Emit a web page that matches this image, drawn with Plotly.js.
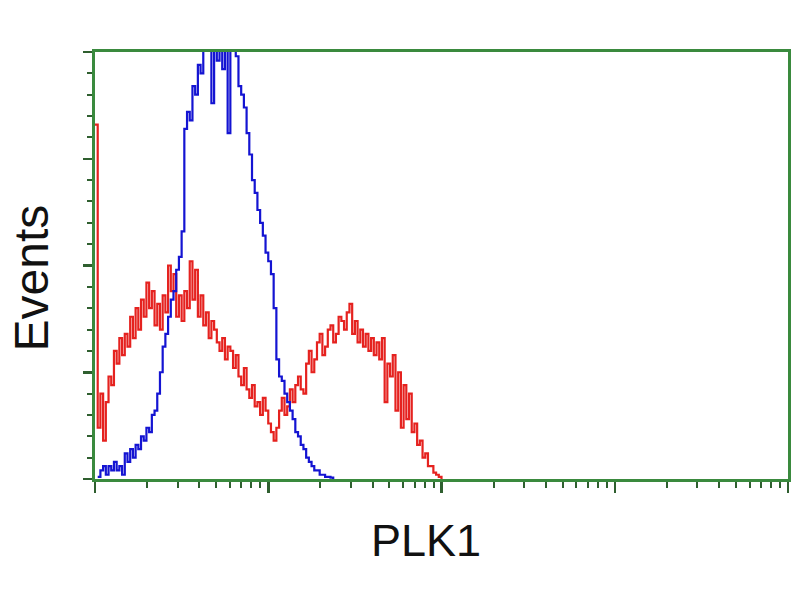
<!DOCTYPE html>
<html>
<head>
<meta charset="utf-8">
<script src="https://cdn.plot.ly/plotly-3.0.1.min.js"></script>
<style>html,body{margin:0;padding:0;background:#fff;}#chart{width:800px;height:600px;}</style>
</head>
<body>
<div id="chart"></div>
<script>
// Histogram channels: 64 channels per decade, 4 decades (0..256)
const xTitle = "PLK1";
const yTitle = "Events";
const decadeTicks = [0, 64, 128, 192, 256];

// Blue (control) histogram, starting at channel 1
const blueStart = 1;
const blueCounts = [
  0.5, 2, 3, 1, 3, 2, 4, 2, 3, 1,
  6, 4, 7, 5, 8, 7, 10, 9, 12, 11,
  15, 16, 20, 25, 31, 34, 38, 42, 44, 49,
  52, 58, 82, 86, 84, 92, 90, 97, 95, 103,
  108, 101, 88, 106, 98, 104, 96, 110, 81, 102,
  107, 99, 92, 90, 87, 81, 76, 70, 67, 63,
  60, 57, 53, 51, 48, 40, 28, 24, 23, 20,
  18, 16, 14, 11, 10, 8, 7, 5, 4, 3,
  2, 2, 1, 1, 0.5, 0.5, 0.3, 0
];

// Red (PLK1 stained) histogram, starting at channel 0
const redStart = 0;
const redCounts = [
  83, 12, 20, 9, 18, 24, 22, 30, 27, 33,
  29, 34, 31, 38, 33, 40, 35, 42, 38, 46,
  40, 44, 36, 41, 35, 43, 39, 50, 44, 48,
  38, 43, 37, 44, 40, 51, 42, 49, 38, 43,
  36, 39, 33, 37, 35, 32, 30, 33, 28, 31,
  30, 26, 29, 24, 22, 26, 21, 19, 22, 17,
  18, 15, 19, 16, 13, 11, 9, 12, 16, 19,
  15, 17, 21, 18, 22, 24, 21, 20, 27, 30,
  25, 28, 32, 34, 29, 31, 35, 36, 32, 34,
  38, 37, 35, 39, 41, 34, 37, 32, 35, 31,
  34, 30, 33, 29, 32, 28, 33, 18, 27, 24,
  29, 16, 25, 12, 22, 14, 20, 11, 13, 8,
  9, 5, 6, 3, 3, 1.5, 1, 0.5, 0
];

const blueX = blueCounts.map((_, i) => blueStart + i);
const redX = redCounts.map((_, i) => redStart + i);

// minor tick positions for log-amplified channels (2..9 within each decade)
const minorVals = [];
for (let d = 0; d < 4; d++) {
  for (let k = 2; k <= 9; k++) minorVals.push(64 * (d + Math.log10(k)));
}

const green = '#3a8a3e';
const tickGreen = '#2f5f2f';

const traces = [
  {x: redX, y: redCounts, type: 'scatter', mode: 'lines', line: {color: '#e5221f', width: 2.2, shape: 'hv'}, hoverinfo: 'none'},
  {x: blueX, y: blueCounts, type: 'scatter', mode: 'lines', line: {color: '#1414d2', width: 2.2, shape: 'hv'}, hoverinfo: 'none'}
];

const layout = {
  width: 800, height: 600,
  margin: {l: 95, r: 12, t: 52, b: 121},
  paper_bgcolor: '#ffffff', plot_bgcolor: '#ffffff',
  showlegend: false,
  xaxis: {
    type: 'linear', range: [0, 256], showgrid: false, zeroline: false,
    showline: true, linecolor: green, linewidth: 3, mirror: true,
    tickmode: 'array', tickvals: decadeTicks, ticks: 'outside', ticklen: 11, tickwidth: 2.5, tickcolor: tickGreen,
    showticklabels: false,
    minor: {tickmode: 'array', tickvals: minorVals, ticks: 'outside', ticklen: 6, tickwidth: 2, tickcolor: tickGreen, showgrid: false}
  },
  yaxis: {
    range: [0, 100], showgrid: false, zeroline: false,
    showline: true, linecolor: green, linewidth: 3, mirror: true,
    tickmode: 'linear', tick0: 0, dtick: 25, ticks: 'outside', ticklen: 9, tickwidth: 2.5, tickcolor: tickGreen,
    showticklabels: false,
    minor: {dtick: 5, ticks: 'outside', ticklen: 5, tickwidth: 2, tickcolor: tickGreen, showgrid: false}
  },
  annotations: [
    {text: xTitle, xref: 'paper', yref: 'paper', x: 0.477, y: -0.143, xanchor: 'center', yanchor: 'middle', showarrow: false,
     font: {family: 'Liberation Sans, Arial, sans-serif', size: 45, color: '#111'}},
    {text: yTitle, xref: 'paper', yref: 'paper', x: -0.091, y: 0.472, xanchor: 'center', yanchor: 'middle', textangle: -90, showarrow: false,
     font: {family: 'Liberation Sans, Arial, sans-serif', size: 48, color: '#111'}}
  ]
};

Plotly.newPlot('chart', traces, layout, {staticPlot: true, displayModeBar: false});
</script>
</body>
</html>
